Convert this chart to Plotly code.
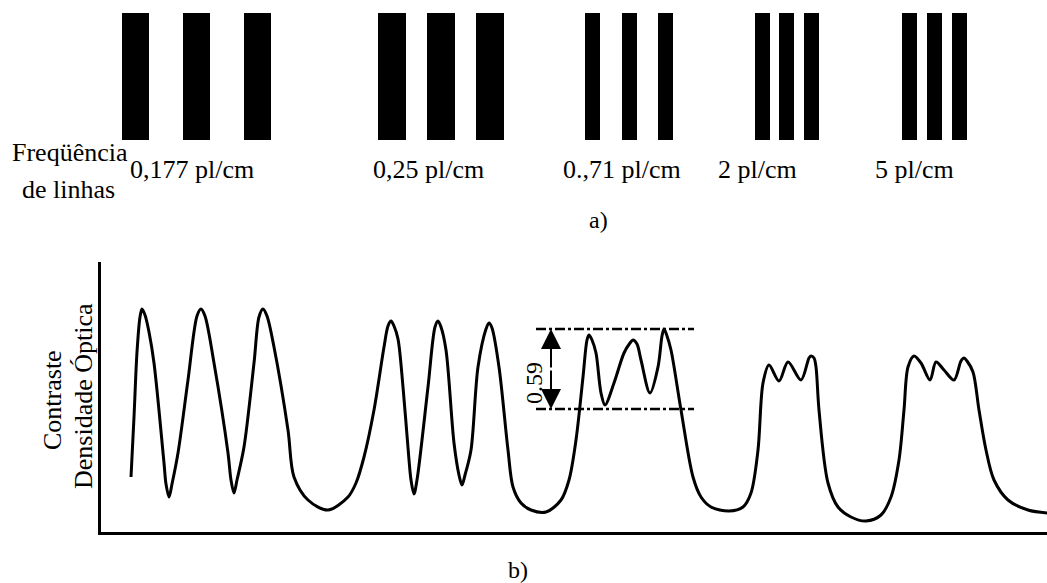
import plotly.graph_objects as go

W, H = 1047, 583

# ---------- a) test pattern ----------
freq_labels = ["0,177 pl/cm", "0,25 pl/cm", "0.,71 pl/cm", "2 pl/cm", "5 pl/cm"]
bar_centers = [[135.5, 196.5, 257.5],
               [392, 441, 489.5],
               [592.5, 629.5, 665],
               [762.5, 786.5, 811],
               [909.5, 934.5, 959.5]]
bar_widths = [27, 28, 15, 15, 15]
label_pos = [192, 428, 622, 757, 914]

# ---------- b) optical density profile ----------
pos = [30, 33, 36, 39, 41, 44, 48, 53, 63, 65, 68, 71, 77, 87, 96, 100, 104, 113, 127, 130, 133, 136, 143,
       153, 158, 162, 166, 173, 187, 193, 207, 227, 247,
       255, 263, 273, 283, 287, 290, 293, 297, 302, 308, 310, 313, 316, 327, 334, 337, 340, 345, 353, 358,
       361, 364, 370, 377, 385, 388, 391, 398, 407, 412, 420, 430,
       445, 460, 468, 475, 482, 486, 488, 491, 495, 500, 504, 513, 523, 529, 532, 536, 540, 549, 557, 561,
       563, 566, 570, 580, 592, 600, 610, 628, 642, 650, 657, 662, 668, 678, 687, 700, 708, 710, 713, 715,
       718, 727, 737, 750, 765, 780, 790, 798, 803, 807, 813, 820, 829, 835, 843, 853, 860, 863, 866, 872,
       878, 885, 893, 907, 927, 947]
density = [55, 115, 180, 215, 223, 217, 200, 169, 69, 48, 35, 48, 79, 152, 216, 223, 216, 169, 79, 52, 39, 52, 85,
           169, 215, 223, 216, 185, 102, 55, 32, 22, 35,
           49, 75, 122, 185, 206, 211, 206, 193, 145, 72, 52, 38, 52, 145, 205, 211, 205, 182, 89, 57,
           47, 57, 82, 165, 203, 209, 204, 165, 82, 45, 29, 22,
           20, 32, 52, 92, 155, 192, 197, 192, 179, 139, 127, 149, 179, 189, 192, 188, 172, 139, 165, 196,
           203, 196, 182, 122, 55, 35, 25, 21, 25, 39, 82, 149, 167, 151, 170, 152, 174, 176, 174, 165,
           122, 49, 25, 15, 11, 17, 35, 72, 122, 165, 176, 169, 152, 170, 162, 152, 171, 174, 171, 160,
           122, 82, 52, 32, 22, 19]

contrast_top = 203
contrast_bottom = 123
contrast_x0, contrast_x1 = 435, 593
arrow_x = 450
contrast_label = "0.59"

FONT = "Liberation Serif"

fig = go.Figure()

for centers, w in zip(bar_centers, bar_widths):
    fig.add_trace(go.Bar(x=centers, y=[1] * len(centers), width=w,
                         marker=dict(color="black", line=dict(width=0)),
                         xaxis="x", yaxis="y", showlegend=False, hoverinfo="skip"))

fig.add_trace(go.Scatter(x=pos, y=density, mode="lines",
                         line=dict(color="black", width=3, shape="spline", smoothing=0.9),
                         xaxis="x2", yaxis="y2", showlegend=False, hoverinfo="skip"))

def py(p):
    return 1 - p / H

annotations = []
for lab, x in zip(freq_labels, label_pos):
    annotations.append(dict(text=lab, x=x, y=py(169), xref="x", yref="paper",
                            showarrow=False, xanchor="center", yanchor="middle",
                            font=dict(family=FONT, size=26, color="black")))
annotations += [
    dict(text="Freqüência", x=70 / W, y=py(152), xref="paper", yref="paper", showarrow=False,
         xanchor="center", yanchor="middle", font=dict(family=FONT, size=26, color="black")),
    dict(text="de linhas", x=68 / W, y=py(189), xref="paper", yref="paper", showarrow=False,
         xanchor="center", yanchor="middle", font=dict(family=FONT, size=26, color="black")),
    dict(text="a)", x=598 / W, y=py(220), xref="paper", yref="paper", showarrow=False,
         xanchor="center", yanchor="middle", font=dict(family=FONT, size=24, color="black")),
    dict(text="b)", x=518 / W, y=py(570), xref="paper", yref="paper", showarrow=False,
         xanchor="center", yanchor="middle", font=dict(family=FONT, size=24, color="black")),
    dict(text="Contraste", x=52 / W, y=py(400), xref="paper", yref="paper", showarrow=False,
         textangle=-90, xanchor="center", yanchor="middle", font=dict(family=FONT, size=26, color="black")),
    dict(text="Densidade Óptica", x=83 / W, y=py(396), xref="paper", yref="paper", showarrow=False,
         textangle=-90, xanchor="center", yanchor="middle", font=dict(family=FONT, size=26, color="black")),
    dict(text=contrast_label, x=arrow_x - 17, y=149,
         xref="x2", yref="y2", showarrow=False, textangle=-90, xanchor="center", yanchor="middle",
         font=dict(family=FONT, size=24, color="black")),
]
mid = (contrast_top + contrast_bottom) / 2
for yy in (contrast_top, contrast_bottom):
    annotations.append(dict(x=arrow_x, y=yy, ax=arrow_x, ay=mid, xref="x2", yref="y2",
                            axref="x2", ayref="y2", text="", showarrow=True,
                            arrowhead=2, arrowsize=2, arrowwidth=2, arrowcolor="black", standoff=0))

shapes = []
for yy in (contrast_top, contrast_bottom):
    shapes.append(dict(type="line", xref="x2", yref="y2", x0=contrast_x0, x1=contrast_x1, y0=yy, y1=yy,
                       line=dict(color="black", width=2.4, dash="10px,3px,3px,3px")))

fig.update_layout(
    width=W, height=H, margin=dict(l=0, r=0, t=0, b=0),
    paper_bgcolor="white", plot_bgcolor="white",
    bargap=0, barmode="overlay",
    xaxis=dict(domain=[0, 1], range=[0, W], visible=False, fixedrange=True),
    yaxis=dict(domain=[py(140), py(13)], range=[0, 1], visible=False, fixedrange=True),
    xaxis2=dict(domain=[101 / W, 1], range=[0, 946], showline=True, linecolor="black", linewidth=3,
                showticklabels=False, ticks="", showgrid=False, zeroline=False, anchor="y2", mirror=False),
    yaxis2=dict(domain=[py(532), py(262)], range=[0, 270], showline=True, linecolor="black", linewidth=2.5,
                showticklabels=False, ticks="", showgrid=False, zeroline=False, anchor="x2"),
    annotations=annotations, shapes=shapes,
)

fig.write_html("out.html")
